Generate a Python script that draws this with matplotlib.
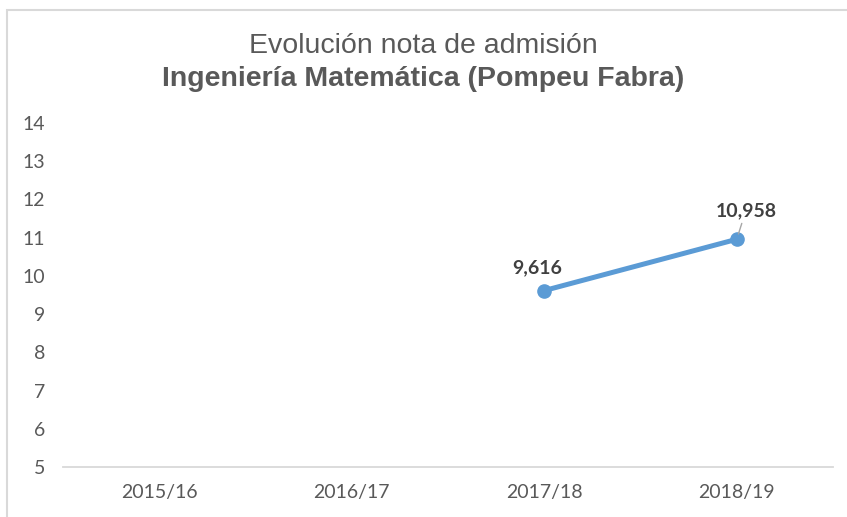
import matplotlib
matplotlib.use("Agg")
import matplotlib.pyplot as plt
from matplotlib.patches import Rectangle

# data
years = ["2015/16", "2016/17", "2017/18", "2018/19"]
notas = [None, None, 9.616, 10.958]
labels = ["", "", "9,616", "10,958"]

W, H = 847, 517
fig = plt.figure(figsize=(W / 100, H / 100), dpi=100)
fig.patch.set_facecolor("white")

# light grey chart border (left and top visible)
fig.add_artist(Rectangle((7 / W, -0.05), 1.2, 1 - 10 / H + 0.05, transform=fig.transFigure,
                         fill=False, edgecolor="#D9D9D9", linewidth=1.5))

ax = fig.add_axes([63 / W, 1 - 467 / H, (833 - 63) / W, (467 - 123) / H])

xs = [i for i, v in enumerate(notas) if v is not None]
ys = [v for v in notas if v is not None]
ax.plot(xs, ys, color="#5B9BD5", linewidth=3.6, marker="o", markersize=9.5,
        solid_capstyle="round", zorder=3)

ax.set_xlim(-0.5, 3.5)
ax.set_ylim(5, 14)
ax.set_xticks(range(len(years)))
ax.set_xticklabels(years)
ax.set_yticks(range(5, 15))

for s in ["top", "right", "left"]:
    ax.spines[s].set_visible(False)
ax.spines["bottom"].set_color("#D9D9D9")
ax.spines["bottom"].set_linewidth(1.3)
ax.tick_params(axis="both", length=0, labelsize=14, colors="#595959")
ax.tick_params(axis="x", pad=12)
ax.tick_params(axis="y", pad=13)
for t in ax.get_xticklabels() + ax.get_yticklabels():
    t.set_family("Lato")

# data labels
ax.annotate(labels[2], (2, notas[2]), xytext=(-5, 16.5), textcoords="offset points",
            ha="center", va="center", fontsize=14, fontweight="bold",
            color="#404040", family="Lato")
ax.annotate(labels[3], (3, notas[3]), xytext=(6.5, 20.5), textcoords="offset points",
            ha="center", va="center", fontsize=14, fontweight="bold",
            color="#404040", family="Lato",
            arrowprops=dict(arrowstyle="-", color="#A6A6A6", lw=1,
                            shrinkA=1, shrinkB=4))

fig.text(0.5, 1 - 46 / H, "Evolución nota de admisión", ha="center", va="center",
         fontsize=20.5, color="#595959", family="Liberation Sans")
fig.text(0.5, 1 - 79 / H, "Ingeniería Matemática (Pompeu Fabra)", ha="center",
         va="center", fontsize=20.5, fontweight="bold", color="#595959",
         family="Liberation Sans")

fig.savefig("out.png", dpi=100)
